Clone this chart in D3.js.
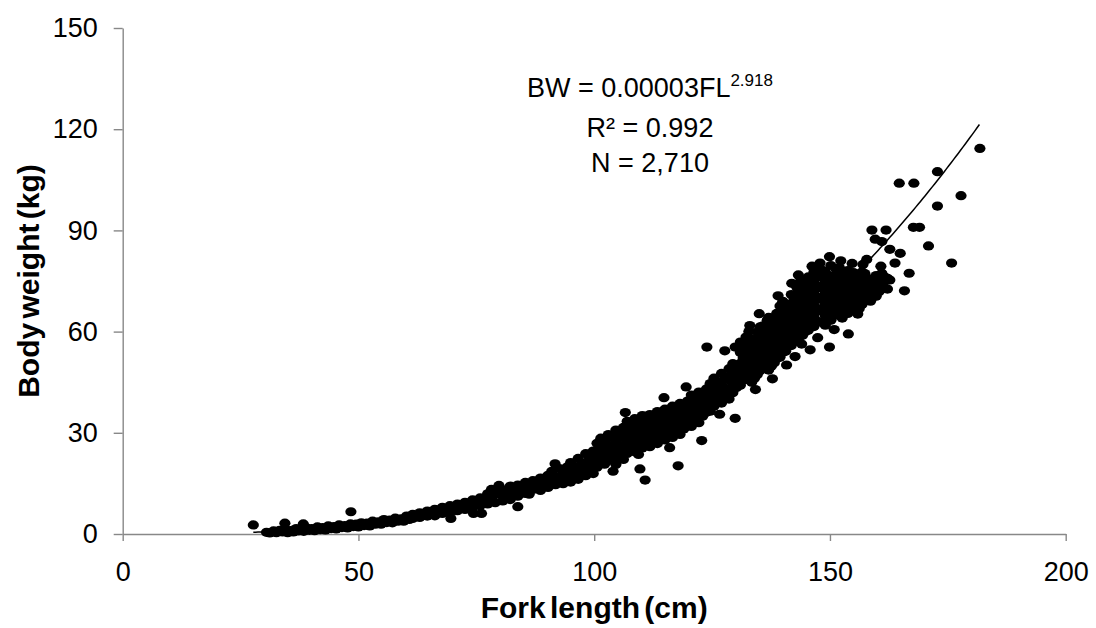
<!DOCTYPE html>
<html><head><meta charset="utf-8">
<script src="https://cdn.jsdelivr.net/npm/d3@7"></script>
<style>
body{margin:0;background:#fff}
svg{display:block}
text{font-family:"Liberation Sans",Arial,sans-serif}
</style>
</head><body>
<svg id="chart" width="1096" height="628"></svg>
<script>
// ---- axis ticks ----
const xTicks = [0, 50, 100, 150, 200];
const yTicks = [0, 30, 60, 90, 120, 150];
const xTitle = "Fork length (cm)";
const yTitle = "Body weight (kg)";
const eqLines = ["R\u00B2 = 0.992", "N = 2,710"];

// ---- fitted curve BW = a * FL^b ----
const trendA = 0.000031;
const trendB = 2.918;
const trendFL = [27.7, 181.8];

// ---- observations: [forkLength, bodyWeight, bodyWeight, ...] per column ----
const smallFish = [
 [30.5,0.5],[31.2,0.3],[32.0,0.9],[32.6,0.4],[33.3,1.1],[33.9,0.6],[34.5,1.3],[35.0,0.4],
 [35.6,1.0],[36.2,0.6],[36.8,1.6],[37.3,0.9],[37.9,1.4],[38.4,0.8],[39.0,1.8],[39.6,1.1],
 [40.1,1.6],[40.7,1.0],[41.3,2.1],[41.9,1.3],[42.4,1.9],[43.0,1.2],[43.6,2.4],[44.2,1.6],
 [44.8,2.2],[45.3,1.5],[45.9,2.7],[46.5,1.9],[47.1,2.5],[47.7,1.8],[48.3,3.0],[48.9,2.2],
 [49.5,2.9],[50.0,2.1],[50.6,3.3],[51.2,2.5],[51.8,3.2],[52.4,2.4],[53.0,3.8],[53.6,2.9],
 [54.2,3.6],[54.8,2.9],[55.4,4.3],[56.0,3.4],[56.6,4.1],[57.2,3.3],[57.8,4.7],[58.4,3.8],
 [59.0,4.5],[59.6,3.8],[60.2,5.3],[60.8,4.3]
];
const juvenileFish = [
 [61.5,5.8,4.6],[62.3,5.2],[63.0,6.3,4.9],[63.8,5.6],[64.6,6.8,5.3],[65.4,6.0],[66.2,7.3,5.4],
 [67.0,6.4],[67.8,7.9,6.1],[68.6,7.0],[69.4,8.4,6.3],[70.2,7.5],[71.0,8.9,6.9],[71.8,8.0],
 [72.6,9.4,7.3],[73.4,8.5],[74.2,10.1,7.8],[75.0,9.2],[75.8,10.7,8.4],[76.6,9.6],
 [77.4,11.9,8.9],[78.2,10.5,13.2],[79.0,11.8,9.3],[79.8,12.6,14.4],[80.6,11.2,9.8],
 [81.4,13.1],[82.2,11.6,14.2,10.2],[83.0,12.8],[83.8,11.2,14.5],[84.6,13.4],[85.4,12.0,15.3],
 [86.2,13.9,11.8],[87.0,15.8,13.2],[87.8,14.3],[88.6,16.6,12.9],[89.4,15.2],[90.2,17.4,13.8],
 [91.0,15.9,18.6],[91.8,14.6,17.0],[92.6,16.3,19.4],[93.4,14.9,17.8],[94.2,19.8,16.4],
 [95.0,18.6,15.4,21.2],[95.8,17.3,20.0],[96.6,19.1,16.2,22.4],[97.4,18.4,21.0],
 [98.2,20.6,17.3,23.8],[99.0,19.5,22.3],[99.8,21.2,17.9,24.6]
];
const subAdultFish = [
 [100.6,23.4,19.8,26.9],[101.4,21.6,25.2,28.4],[102.2,24.0,20.7,27.6],[103.0,22.8,26.3,29.5],
 [103.8,25.1,21.9,28.7],[104.6,23.7,27.4,30.8,20.6],[105.4,26.0,22.6,29.3],
 [106.2,24.8,28.5,31.6,22.1],[107.0,27.1,23.9,30.2,33.4],[107.8,25.6,29.0,32.3],
 [108.6,27.8,24.4,31.1,34.2],[109.4,26.5,29.8,33.0,23.6],[110.2,28.4,31.7,25.5,35.1],
 [111.0,30.3,27.0,33.6],[111.8,28.9,32.4,25.9,35.4],[112.6,30.9,27.6,34.1],
 [113.4,29.5,33.0,36.3,26.8],[114.2,31.6,28.3,34.8],[115.0,30.2,33.7,37.0,27.9],
 [115.8,32.4,29.0,35.6],[116.6,31.0,34.5,37.9,28.6],[117.4,33.2,30.0,36.4],
 [118.2,31.8,35.3,38.7,29.5],[119.0,34.0,37.2,31.1],[119.8,35.8,32.6,39.4],
 [120.6,34.6,38.0,31.9,41.2],[121.4,36.5,33.4,39.8],[122.2,35.2,38.8,42.1,33.0],
 [123.0,37.4,40.6,34.9],[123.8,39.2,36.1,43.0,41.7],[124.6,38.0,41.5,44.6,36.4],
 [125.4,40.3,43.7,37.9,46.2],[126.2,42.0,39.1,45.1],[127.0,41.1,44.4,47.6,38.8],
 [127.8,43.2,46.5,40.4],[128.6,42.4,45.7,49.0,40.0],[129.4,44.6,47.8,41.9,50.5],
 [130.2,46.3,43.4,49.5]
];
const adultFish = [
 [131.0,47.2,44.1,50.6,53.8,56.9],[132.2,49.0,45.8,52.3,55.6,58.4],[133.4,47.9,51.1,54.5,57.7,45.0],
 [134.6,50.2,53.4,56.8,59.9,47.3],[135.8,52.0,55.3,58.6,61.7,49.1],
 [137.0,51.4,54.7,57.9,61.1,64.2,48.6],[138.2,53.6,56.9,60.2,63.4,50.8],
 [139.4,55.1,58.5,61.8,65.0,52.4,67.6],[140.6,57.0,60.3,63.6,66.8,54.2],
 [141.8,58.4,61.7,65.1,68.3,71.0,55.9],[143.0,60.1,63.5,66.9,70.2,57.6,73.1],
 [144.2,61.6,64.9,68.3,71.7,74.8,58.9],[145.4,63.0,66.4,69.8,73.2,76.2,60.4],
 [146.6,64.4,67.8,71.2,74.6,77.7,61.5],[147.8,62.9,66.2,69.6,73.0,76.3,78.9],
 [149.0,64.8,68.1,71.5,74.9,77.9,61.9],[150.2,66.3,69.7,73.1,76.4,79.6,63.4],
 [151.4,65.1,68.5,71.9,75.3,78.2],[152.6,66.9,70.3,73.7,77.0,64.0],
 [153.8,68.2,71.6,75.0,78.1,65.4],[155.0,67.5,70.9,74.3,77.5],[156.2,69.3,72.7,76.0,66.8],
 [157.4,70.6,73.9,77.2],[158.6,71.9,75.3,69.0],[159.8,73.2,76.6,70.5],[161.0,74.0,77.3],
 [162.2,72.6,75.8]
];
const adultFishB = [
 [131.6,45.6,48.9,52.2,55.3],[132.8,47.0,50.4,53.9,57.0,60.0],[134.0,46.2,49.6,52.9,56.1],
 [135.2,48.5,51.8,55.0,58.3,61.4],[136.4,50.4,53.6,56.9,60.1],
 [137.6,49.8,53.0,56.3,59.6,62.7],[138.8,52.1,55.2,58.5,61.8],
 [140.0,53.8,56.8,60.1,63.3,66.4,69.0],[141.2,55.6,58.7,61.9,65.2],
 [142.4,57.1,60.0,63.3,66.7,69.8],[143.6,58.6,61.8,65.2,68.6,71.9,74.6],
 [144.8,60.0,63.3,66.7,70.0,73.4],[146.0,61.9,65.1,68.5,71.9,75.2],
 [147.2,63.1,66.6,70.0,73.3,76.7],[148.4,66.9,70.3,73.6,77.0],
 [149.6,63.2,66.5,69.9,73.3,76.6],[150.8,64.7,68.0,71.4,74.8],
 [152.0,66.8,70.2,73.5,76.6,79.0],[153.2,65.4,68.7,72.0,75.3],
 [154.4,66.8,69.9,73.3,76.7],[155.6,68.9,72.3,75.6],[156.8,68.0,71.3,74.6,77.7],
 [158.0,69.5,72.5,75.8],[159.2,70.3,73.6],[160.4,71.8,74.8],[161.6,73.0,76.2]
];
const outlierFish = [
 [27.7,2.7],[34.4,3.2],[38.3,3.0],[48.4,6.6],[69.6,4.6],[74.4,6.1],[76.1,6.1],[83.8,8.1],
 [91.7,20.8],[109.7,19.3],[110.8,16.0],[117.8,20.2],[122.8,27.7],[114.8,40.4],[129.9,34.3],
 [123.9,55.4],[127.7,54.3],[129.9,55.4],[136.7,63.4],[138.7,65.4],[140.8,50.1],[141.9,74.3],
 [144.0,56.3],[145.8,54.6],[149.9,55.4],[153.9,59.3],[155.9,65.2],[147.9,80.3],[149.9,82.2],
 [157.8,81.4],[158.9,90.1],[161.9,90.1],[159.6,87.4],[161.0,86.7],[162.7,84.4],[164.9,83.2],
 [163.8,80.3],[166.8,77.3],[162.7,75.3],[165.8,72.1],[167.7,90.9],[169.0,90.9],[170.9,85.4],
 [175.8,80.3],[172.8,97.2],[177.8,100.3],[164.7,104.0],[167.8,104.0],[172.8,107.4],[181.8,114.3],
 [152.3,81.0],[154.7,80.2],[146.2,79.4],[143.3,76.8],[139.0,70.6],[135.0,65.3],[133.0,61.8],
 [157.0,79.9],[160.8,79.4],[150.9,60.6],[147.4,58.2],[142.6,52.6],[137.8,46.0],[134.2,42.8],
 [119.5,43.6],[116.0,25.6],[106.6,36.0],[104.0,18.6],[126.6,35.5]
];

// ---- build ----
const toPoints = cols => cols.flatMap(c => c.slice(1).map(bw => ({fl: c[0], bw})));
const points = [smallFish, juvenileFish, subAdultFish, adultFish, adultFishB, outlierFish].flatMap(toPoints);

const svg = d3.select("#chart");
const x = d3.scaleLinear().domain([0, 200]).range([122.7, 1065.7]);
const y = d3.scaleLinear().domain([0, 150]).range([534, 28]);
const axisColor = "#888888";
const font = '"Liberation Sans",Arial,sans-serif';

const gx = svg.append("g").attr("transform", `translate(0,${y(0)})`)
  .call(d3.axisBottom(x).tickValues(xTicks).tickSize(7).tickSizeOuter(0).tickPadding(21));
const gy = svg.append("g").attr("transform", `translate(${x(0)},0)`)
  .call(d3.axisLeft(y).tickValues(yTicks).tickSize(9).tickSizeOuter(0).tickPadding(16));
[gx, gy].forEach(g => {
  g.select(".domain").attr("stroke", axisColor).attr("stroke-width", 1.4);
  g.selectAll(".tick line").attr("stroke", axisColor).attr("stroke-width", 1.4);
  g.selectAll(".tick text").attr("fill", "#000").style("font-size", "27px").style("font-family", font);
});

svg.append("g").selectAll("ellipse").data(points).join("ellipse")
  .attr("cx", d => x(d.fl)).attr("cy", d => y(d.bw))
  .attr("rx", 5.6).attr("ry", 4.6).attr("fill", "#000");

const curve = d3.range(trendFL[0], trendFL[1] + 0.01, 0.5).map(fl => [fl, trendA * Math.pow(fl, trendB)]);
svg.append("path").datum(curve)
  .attr("d", d3.line().x(d => x(d[0])).y(d => y(d[1])))
  .attr("fill", "none").attr("stroke", "#000").attr("stroke-width", 1.5);

// titles
svg.append("text").attr("x", (x(0) + x(200)) / 2).attr("y", 618)
  .attr("text-anchor", "middle").style("font-size", "30px").style("font-weight", "bold")
  .style("word-spacing", "-4px").text(xTitle);
svg.append("text").attr("transform", `translate(39,${(y(0) + y(150)) / 2}) rotate(-90)`)
  .attr("text-anchor", "middle").style("font-size", "30px").style("font-weight", "bold")
  .style("word-spacing", "-4px").text(yTitle);

// annotation
const ann = svg.append("g").style("font-size", "27px");
const l1 = ann.append("text").attr("x", 650).attr("y", 97).attr("text-anchor", "middle");
l1.append("tspan").text("BW = 0.00003FL");
l1.append("tspan").attr("dy", -11).style("font-size", "17px").text("2.918");
eqLines.forEach((t, i) => ann.append("text").attr("x", 650).attr("y", 137 + i * 35)
  .attr("text-anchor", "middle").text(t));
</script>
</body></html>
